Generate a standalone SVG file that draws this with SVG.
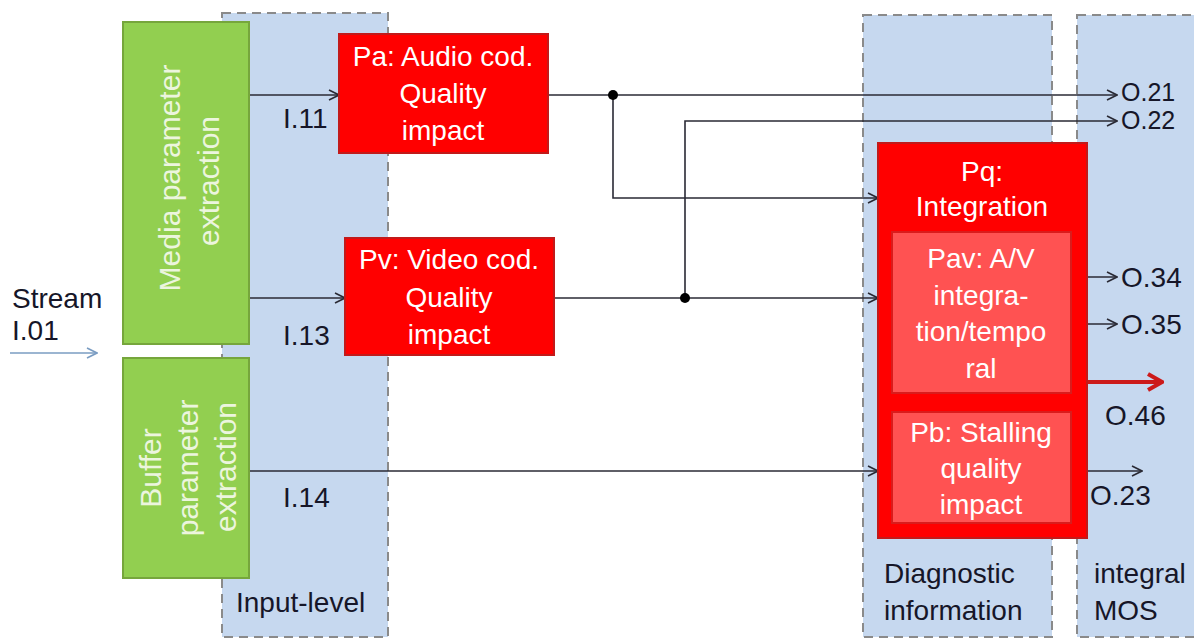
<svg xmlns="http://www.w3.org/2000/svg" width="1194" height="639" viewBox="0 0 1194 639">
<style>
.panel{fill:#c6d8ef;stroke:#8a8a8a;stroke-width:2;stroke-dasharray:9 6}
.green{fill:#92cf50;stroke:#76a63c;stroke-width:2}
.red{fill:#ff0000;stroke:#c21a1a;stroke-width:2}
.lred{fill:#ff5252;stroke:#d91c1c;stroke-width:2}
text{font-family:"Liberation Sans",Arial,sans-serif;font-size:28px}
.w{fill:#ffffff;text-anchor:middle}
.wl{fill:#ecf5de;text-anchor:middle;font-size:30px}
.k{fill:#161628}
.s{font-size:25px}
.c{fill:none;stroke:#2a2a35;stroke-width:1.6}
</style>
<defs>
<marker id="ah" viewBox="0 0 12 12" refX="11" refY="6" markerWidth="12" markerHeight="12" markerUnits="userSpaceOnUse" orient="auto">
<path d="M1,1 L11,6 L1,11" fill="none" stroke="#2a2a35" stroke-width="1.6"/>
</marker>
<marker id="ahb" viewBox="0 0 12 12" refX="11" refY="6" markerWidth="12" markerHeight="12" markerUnits="userSpaceOnUse" orient="auto">
<path d="M1,1 L11,6 L1,11" fill="none" stroke="#7a9cc2" stroke-width="1.6"/>
</marker>
<marker id="ahr" viewBox="0 0 20 20" refX="18" refY="10" markerWidth="20" markerHeight="20" markerUnits="userSpaceOnUse" orient="auto">
<path d="M4,2 L18,10 L4,18" fill="none" stroke="#cc1a1a" stroke-width="4"/>
</marker>
</defs>

<g id="panel-input">
<rect class="panel" x="222" y="13" width="166" height="624"/>
<text class="k" x="236" y="612">Input-level</text>
</g>
<g id="panel-diagnostic">
<rect class="panel" x="863" y="15" width="189" height="622"/>
<text class="k" x="884" y="583">Diagnostic</text>
<text class="k" x="884" y="620">information</text>
</g>
<g id="panel-mos">
<rect class="panel" x="1077" y="15" width="130" height="622"/>
<text class="k" x="1094" y="583">integral</text>
<text class="k" x="1094" y="620">MOS</text>
</g>

<g id="stream">
<text class="k" x="12" y="308">Stream</text>
<text class="k" x="12" y="340">I.01</text>
</g>

<g id="connectors">
<line class="c" x1="10" y1="353" x2="97" y2="353" style="stroke:#7a9cc2" marker-end="url(#ahb)"/>
<line class="c" x1="250" y1="95" x2="339" y2="95" marker-end="url(#ah)"/>
<line class="c" x1="250" y1="298" x2="345" y2="298" marker-end="url(#ah)"/>
<line class="c" x1="250" y1="471" x2="878" y2="471" marker-end="url(#ah)"/>
<line class="c" x1="548" y1="95" x2="1117" y2="95" marker-end="url(#ah)"/>
<polyline class="c" points="613,95 613,198 878,198" marker-end="url(#ah)"/>
<line class="c" x1="554" y1="298" x2="878" y2="298" marker-end="url(#ah)"/>
<polyline class="c" points="685,298 685,121 1117,121" marker-end="url(#ah)"/>
<circle cx="613" cy="95" r="5" fill="#000"/>
<circle cx="685" cy="298" r="5" fill="#000"/>
<line class="c" x1="1071" y1="277" x2="1117" y2="277" marker-end="url(#ah)"/>
<line class="c" x1="1071" y1="324" x2="1117" y2="324" marker-end="url(#ah)"/>
<line x1="1087" y1="382" x2="1162" y2="382" stroke="#cc1a1a" stroke-width="4" marker-end="url(#ahr)"/>
<line class="c" x1="1071" y1="471" x2="1142" y2="471" marker-end="url(#ah)"/>
<text class="k" x="283" y="128">I.11</text>
<text class="k" x="283" y="345">I.13</text>
<text class="k" x="283" y="507">I.14</text>
<text class="k s" x="1121" y="101">O.21</text>
<text class="k s" x="1121" y="129">O.22</text>
<text class="k" x="1121" y="287">O.34</text>
<text class="k" x="1121" y="334">O.35</text>
<text class="k" x="1105" y="425">O.46</text>
<text class="k" x="1090" y="505">O.23</text>
</g>

<g id="media-extraction">
<rect class="green" x="123" y="22" width="126" height="322"/>
<text class="wl" transform="translate(180,178) rotate(-90)">Media parameter</text>
<text class="wl" transform="translate(219,181) rotate(-90)">extraction</text>
</g>
<g id="buffer-extraction">
<rect class="green" x="123" y="358" width="126" height="220"/>
<text class="wl" transform="translate(161,468) rotate(-90)">Buffer</text>
<text class="wl" transform="translate(198,468) rotate(-90)">parameter</text>
<text class="wl" transform="translate(236,467) rotate(-90)">extraction</text>
</g>

<g id="pa">
<rect class="red" x="339" y="34" width="209" height="119"/>
<text class="w" x="443" y="66">Pa: Audio cod.</text>
<text class="w" x="443" y="103">Quality</text>
<text class="w" x="443" y="140">impact</text>
</g>
<g id="pv">
<rect class="red" x="345" y="238" width="209" height="117"/>
<text class="w" x="449" y="269">Pv: Video cod.</text>
<text class="w" x="449" y="307">Quality</text>
<text class="w" x="449" y="344">impact</text>
</g>

<g id="pq">
<rect class="red" x="878" y="143" width="209" height="395"/>
<text class="w" x="982" y="181">Pq:</text>
<text class="w" x="982" y="216">Integration</text>
</g>
<g id="pav">
<rect class="lred" x="892" y="232" width="179" height="161"/>
<text class="w" x="981" y="268">Pav: A/V</text>
<text class="w" x="981" y="305">integra-</text>
<text class="w" x="981" y="341">tion/tempo</text>
<text class="w" x="981" y="378">ral</text>
</g>
<g id="pb">
<rect class="lred" x="892" y="412" width="179" height="111"/>
<text class="w" x="981" y="442">Pb: Stalling</text>
<text class="w" x="981" y="478">quality</text>
<text class="w" x="981" y="514">impact</text>
</g>
</svg>
